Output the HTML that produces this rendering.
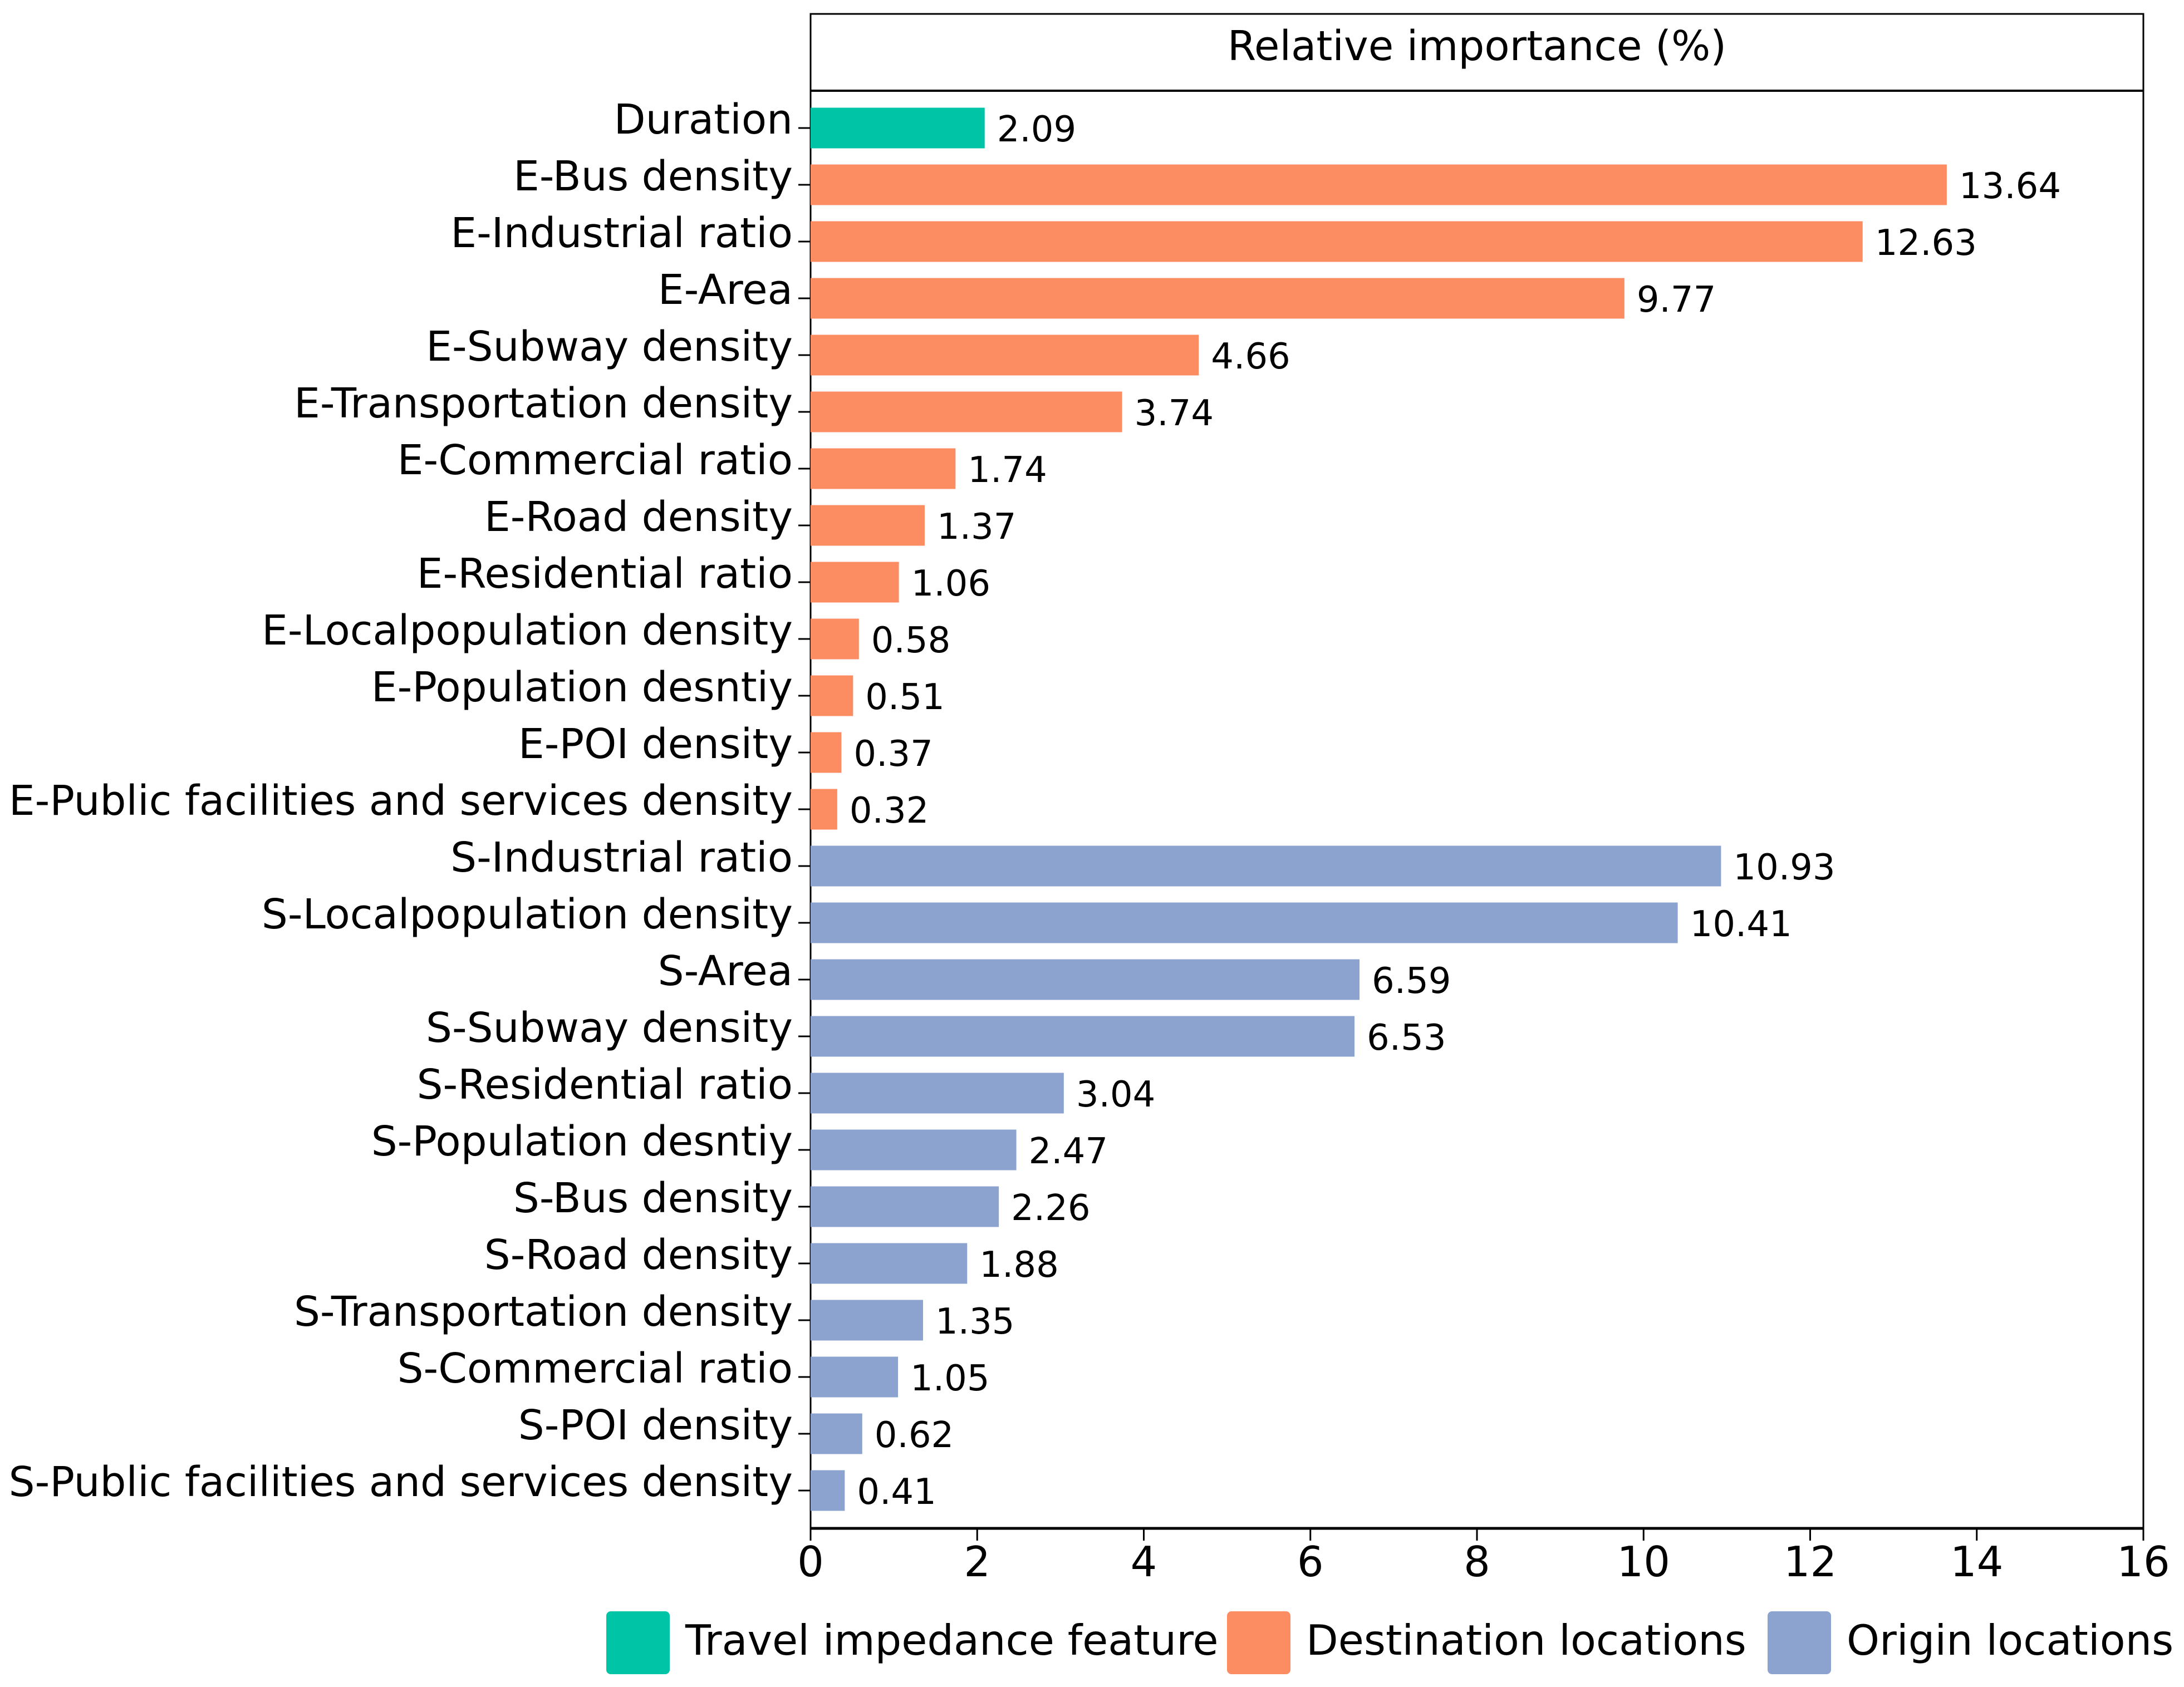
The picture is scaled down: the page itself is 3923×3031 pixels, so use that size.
<!DOCTYPE html>
<html><head><meta charset="utf-8"><style>
html,body{margin:0;padding:0;background:#fff}
svg{display:block}
text{font-family:"DejaVu Sans","Liberation Sans",sans-serif;fill:#000}
</style></head><body>
<svg id="chart" width="3923" height="3031" viewBox="0 0 3923 3031" xmlns="http://www.w3.org/2000/svg">
<g id="plot"></g>
</svg>
<script>
const categories=["Duration","E-Bus density","E-Industrial ratio","E-Area","E-Subway density","E-Transportation density","E-Commercial ratio","E-Road density","E-Residential ratio","E-Localpopulation density","E-Population desntiy","E-POI density","E-Public facilities and services density","S-Industrial ratio","S-Localpopulation density","S-Area","S-Subway density","S-Residential ratio","S-Population desntiy","S-Bus density","S-Road density","S-Transportation density","S-Commercial ratio","S-POI density","S-Public facilities and services density"];
const values=[2.09,13.64,12.63,9.77,4.66,3.74,1.74,1.37,1.06,0.58,0.51,0.37,0.32,10.93,10.41,6.59,6.53,3.04,2.47,2.26,1.88,1.35,1.05,0.62,0.41];
const groups=[0,1,1,1,1,1,1,1,1,1,1,1,1,2,2,2,2,2,2,2,2,2,2,2,2];
const groupNames=["Travel impedance feature","Destination locations","Origin locations"];
const xTicks=[0,2,4,6,8,10,12,14,16];
const colors=["#00c4a6","#fc8d62","#8ca3cf"];
const NS="http://www.w3.org/2000/svg";
const g=document.getElementById('plot');
const X0=1456,X1=3850,XMAX=16,TOP=25,HB=163,BOT=2746;
const y0=230,pitch=102,bh=73;
const xs=v=>X0+(v/XMAX)*(X1-X0);
const ys=i=>y0+i*pitch;
function mk(tag,attrs,txt){const e=document.createElementNS(NS,tag);for(const k in attrs)e.setAttribute(k,attrs[k]);if(txt!==undefined)e.textContent=txt;g.appendChild(e);return e;}
let e=mk('rect',{x:X0,y:TOP,width:X1-X0,height:BOT-TOP,fill:'none',stroke:'#000','stroke-width':3});


e=mk('line',{x1:X0,y1:HB,x2:X1,y2:HB,stroke:'#000','stroke-width':4});


e=mk('line',{x1:X0,y1:BOT,x2:X1,y2:BOT,stroke:'#000','stroke-width':5});


e=mk('text',{x:(X0+X1)/2,y:108,'text-anchor':'middle','font-size':74},'Relative importance (%)');


categories.forEach((c,i)=>{
  const cy=ys(i);
  let r=mk('rect',{x:X0,y:cy-bh/2,width:xs(values[i])-X0,height:bh,fill:colors[groups[i]]});
  
  
  let t=mk('line',{x1:X0-22,y1:cy,x2:X0,y2:cy,stroke:'#000','stroke-width':3});
  
  
  let l=mk('text',{x:X0-32,y:cy+10,'text-anchor':'end','font-size':74},c);
  
  
  let v=mk('text',{x:xs(values[i])+22,y:cy+24,'font-size':64},values[i].toFixed(2));
  
  
});
xTicks.forEach(tv=>{
  let t=mk('line',{x1:xs(tv),y1:BOT,x2:xs(tv),y2:BOT+22,stroke:'#000','stroke-width':3});
  
  
  let l=mk('text',{x:xs(tv),y:2832,'text-anchor':'middle','font-size':75},String(tv));
  
  
});
const legX=[1089,2204,3175];
groupNames.forEach((n,k)=>{
  let p=mk('rect',{x:legX[k],y:2895,width:114,height:113,rx:8,fill:colors[k]});
  
  
  let t=mk('text',{x:legX[k]+142,y:2973,'font-size':75},n);
  
  
});
</script>
</body></html>
